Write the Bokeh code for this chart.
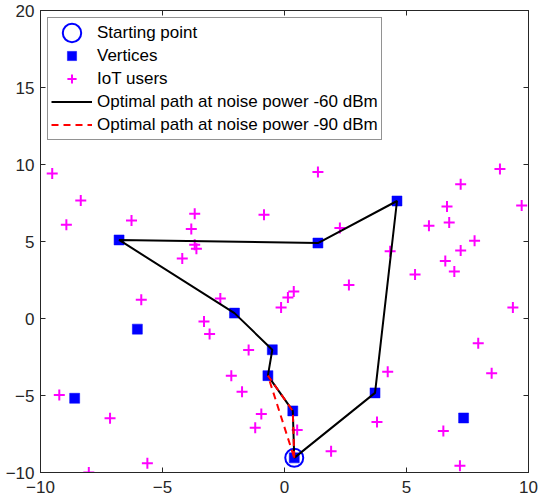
from bokeh.plotting import figure
from bokeh.models import (Range1d, FixedTicker, LinearAxis, Legend, LegendItem,
                          CustomLabelingPolicy)
from bokeh.embed import file_html
from bokeh.resources import INLINE

# Starting point of the path
start_x = [0.40]
start_y = [-9.05]

# Vertices (the first one is the starting point)
vert_x = [0.40, 0.34, -0.68, -0.50, -2.05, -6.03, -8.60, -6.78, 1.37, 4.61, 3.71, 7.34]
vert_y = [-9.05, -6.00, -3.71, -2.03, 0.35, -0.69, -5.18, 5.10, 4.90, 7.63, -4.83, -6.46]

# IoT user positions
user_x = [-9.52, -8.35, -8.94, -6.27, -3.68, -3.82, -3.68, -3.61, -4.19, -0.84,
          -5.87, -2.63, -0.14, 0.14, 0.38, -3.30, -3.07, 1.37, 2.27, 4.33,
          2.64, 5.35, 5.92, 6.66, 6.75, 7.22, 8.83, 9.72, 7.79, 7.22,
          6.59, 6.96, 9.36, -1.47, -2.18, -1.74, -0.95, -1.20, -9.23, -7.15,
          -5.62, -8.02, 7.94, 4.23, 8.49, 3.79, 0.52, 6.51, 1.91, 7.19]
user_y = [9.41, 7.67, 6.09, 6.37, 6.81, 5.81, 4.79, 4.53, 3.90, 6.74,
          1.22, 1.30, 0.72, 1.37, 1.76, -0.19, -1.01, 9.52, 5.88, 4.36,
          2.17, 2.86, 6.03, 7.28, 6.24, 8.71, 9.71, 7.33, 5.05, 4.42,
          3.73, 3.06, 0.72, -2.04, -3.71, -4.75, -6.20, -7.09, -4.96, -6.48,
          -9.40, -10.0, -1.60, -3.45, -3.55, -6.72, -7.24, -7.30, -8.62, -9.56]

# Optimal path at -60 dBm noise power
path60_x = [0.40, 3.71, 4.61, 1.37, -6.78, -2.05, -0.50, -0.68, 0.34, 0.40]
path60_y = [-9.05, -4.83, 7.63, 4.90, 5.10, 0.35, -2.03, -3.71, -6.00, -9.05]

# Optimal path at -90 dBm noise power
path90_x = [0.40, 0.34, -0.68, 0.40]
path90_y = [-9.05, -6.00, -3.71, -9.05]

x_ticks = [-10, -5, 0, 5, 10]
y_ticks = [-10, -5, 0, 5, 10, 15, 20]

AX = "#262626"
FONT = "Liberation Sans"

p = figure(width=552, height=502, output_backend="svg", toolbar_location=None,
           x_range=Range1d(-10, 10), y_range=Range1d(-10, 20),
           min_border_left=40, min_border_right=24, min_border_top=10,
           min_border_bottom=30, x_axis_location=None, y_axis_location=None)
p.grid.visible = False
p.background_fill_color = "white"
p.border_fill_color = "white"
p.outline_line_color = AX
p.outline_line_width = 1

# drops every tick label (used for the tick-only box axes on top and right)
no_labels = CustomLabelingPolicy(
    code="for (const i of indices) { indices.unset(i) } return indices")


def make_axis(ticks, show_labels, standoff):
    ax = LinearAxis(ticker=FixedTicker(ticks=ticks))
    ax.axis_line_color = AX
    ax.major_tick_line_color = AX
    ax.major_tick_in = 5
    ax.major_tick_out = 0
    ax.minor_tick_line_color = None
    ax.major_label_text_font = FONT
    ax.major_label_text_color = AX
    if show_labels:
        ax.major_label_text_font_size = "17px"
        ax.major_label_standoff = standoff
    else:
        ax.major_label_text_font_size = "1px"
        ax.major_label_standoff = 0
        ax.major_label_policy = no_labels
    return ax


p.add_layout(make_axis(x_ticks, True, 8), "below")
p.add_layout(make_axis(y_ticks, True, 6), "left")
p.add_layout(make_axis(x_ticks, False, 0), "above")
p.add_layout(make_axis(y_ticks, False, 0), "right")

# starting point: open circle with a fixed on-screen diameter
r_start = p.ellipse(start_x, start_y, width=18, height=18,
                    width_units="screen", height_units="screen",
                    fill_color=None, line_color="#0000FF", line_width=2)
r_vert = p.scatter(vert_x, vert_y, marker="square", size=10,
                   fill_color="#0000FF", line_color="#0000FF", line_width=0.5)
r_user = p.scatter(user_x, user_y, marker="cross", size=11,
                   line_color="#FF00FF", line_width=2)
r60 = p.line(path60_x, path60_y, line_color="black", line_width=2)
r90 = p.line(path90_x, path90_y, line_color="#FF0000", line_width=2,
             line_dash="7 5")

legend = Legend(items=[
    LegendItem(label="Starting point", renderers=[r_start]),
    LegendItem(label="Vertices", renderers=[r_vert]),
    LegendItem(label="IoT users", renderers=[r_user]),
    LegendItem(label="Optimal path at noise power -60 dBm", renderers=[r60]),
    LegendItem(label="Optimal path at noise power -90 dBm", renderers=[r90]),
])
legend.location = "top_left"
legend.margin = 7
legend.padding = 3
legend.spacing = 0
legend.glyph_width = 41
legend.glyph_height = 23
legend.label_height = 20
legend.label_standoff = 5
legend.label_text_font = FONT
legend.label_text_font_size = "17px"
legend.label_text_color = "black"
legend.border_line_color = AX
legend.border_line_width = 1
legend.background_fill_color = "white"
legend.background_fill_alpha = 1
p.add_layout(legend, "center")

open("out.html", "w").write(file_html(p, INLINE))
